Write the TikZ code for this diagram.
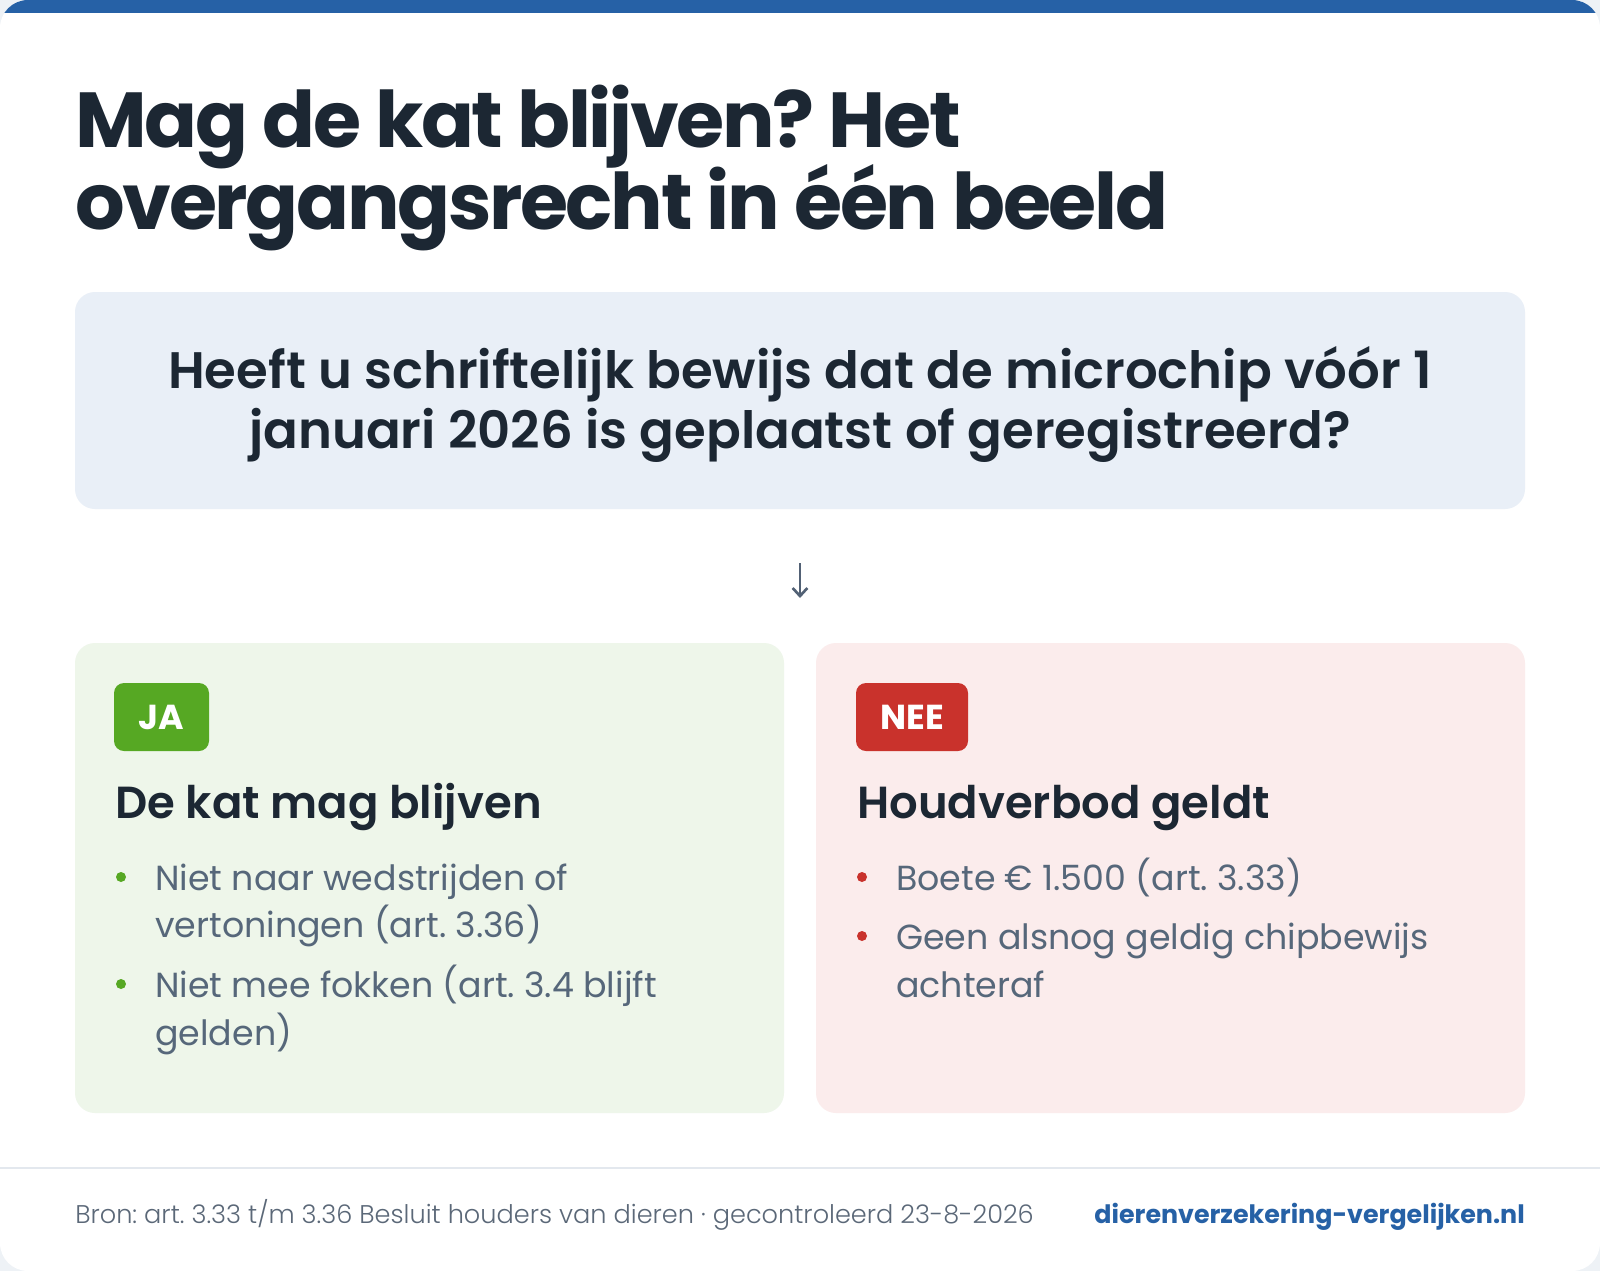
\documentclass[tikz,border=0pt]{standalone}
\usepackage{fontspec}
\setmainfont{Poppins}
\newfontfamily\semibold{Poppins SemiBold}
\newfontfamily\licht{Poppins Light}
\newfontfamily\titelletter{Poppins Bold}[LetterSpace=-3.0]
\usetikzlibrary{arrows.meta}

\definecolor{pagina}{HTML}{EEF2F6}
\definecolor{balk}{HTML}{2661A6}
\definecolor{inkt}{HTML}{1C2733}
\definecolor{vraagvlak}{HTML}{E9EFF7}
\definecolor{javlak}{HTML}{EEF6EA}
\definecolor{neevlak}{HTML}{FBECEC}
\definecolor{jagroen}{HTML}{56A823}
\definecolor{neerood}{HTML}{C9322C}
\definecolor{lijsttekst}{HTML}{56677A}
\definecolor{voettekst}{HTML}{5B6878}
\definecolor{lijn}{HTML}{E3E8EE}
\definecolor{pijlkleur}{HTML}{526175}

\begin{document}
\frenchspacing
\begin{tikzpicture}[x=0.75pt,y=-0.75pt,
    titel/.style={anchor=base west,inner sep=0,text=inkt,font=\fontsize{58.5}{70}\titelletter},
    vraag/.style={anchor=base,inner sep=0,text=inkt,font=\fontsize{38.5}{46}\semibold},
    kop/.style={anchor=base west,inner sep=0,text=inkt,font=\fontsize{33.7}{40}\semibold},
    punt/.style={anchor=base west,inner sep=0,text=lijsttekst,font=\fontsize{26.1}{32}\selectfont},
    stip/.style={circle,inner sep=0,minimum size=7.5pt},
    kenmerk/.style={rounded corners=7.5pt,minimum height=51pt,inner sep=0,text=white,font=\fontsize{26}{30}\selectfont\bfseries},
    vlak/.style={rounded corners=15pt},
    voet/.style={anchor=base west,inner sep=0,text=voettekst,font=\fontsize{19.2}{22}\licht}]
  \useasboundingbox (0,0) rectangle (1600,1271);
  % kaart
  \fill[pagina] (0,0) rectangle (1600,1271);
  \fill[white,rounded corners=21pt] (0,0) rectangle (1600,1271);
  \begin{scope}
    \clip[rounded corners=21pt] (0,0) rectangle (1600,1271);
    \fill[balk] (0,0) rectangle (1600,13);
  \end{scope}
  % titel
  \node[titel] (titel1) at (75,147) {Mag de kat blijven? Het};
  \node[titel] (titel2) at (75,229) {overgangsrecht in één beeld};
  % vraag
  \fill[vraagvlak,vlak] (75,292) rectangle (1525,509);
  \node[vraag] (vraag1) at (800,388) {Heeft u schriftelijk bewijs dat de microchip vóór 1};
  \node[vraag] (vraag2) at (800,448) {januari 2026 is geplaatst of geregistreerd?};
  \coordinate (pijlbegin) at (800,563);
  \coordinate (pijleind) at (800,598);
  \draw[pijlkleur,line width=2pt,-{Straight Barb[length=6pt,width=11pt]}] (pijlbegin) -- (pijleind);
  % ja en nee
  \fill[javlak,vlak] (75,643) rectangle (784,1113);
  \fill[neevlak,vlak] (816,643) rectangle (1525,1113);
  \node[kenmerk,fill=jagroen,minimum width=71.25pt] (ja) at (161.5,717) {JA};
  \node[kenmerk,fill=neerood,minimum width=84pt] (nee) at (912,717) {NEE};
  \node[kop] (kopja) at (115,818) {De kat mag blijven};
  \node[kop] (kopnee) at (857,818) {Houdverbod geldt};
  \node[stip,fill=jagroen] (stipja1) at (121,877) {};
  \node[punt] (ja1a) at (155,890) {Niet naar wedstrijden of};
  \node[punt] (ja1b) at (155,937) {vertoningen (art. 3.36)};
  \node[stip,fill=jagroen] (stipja2) at (121,984) {};
  \node[punt] (ja2a) at (155,997) {Niet mee fokken (art. 3.4 blijft};
  \node[punt] (ja2b) at (155,1045) {gelden)};
  \node[stip,fill=neerood] (stipnee1) at (862,877) {};
  \node[punt] (nee1) at (896,890) {Boete € 1.500 (art. 3.33)};
  \node[stip,fill=neerood] (stipnee2) at (862,936) {};
  \node[punt] (nee2a) at (896,949) {Geen alsnog geldig chipbewijs};
  \node[punt] (nee2b) at (896,997) {achteraf};
  % voet
  \draw[lijn,line width=1.1pt] (0,1168) -- (1600,1168);
  \node[voet] (bron) at (75,1223) {Bron: art. 3.33 t/m 3.36 Besluit houders van dieren · gecontroleerd 23-8-2026};
  \node[voet,anchor=base east,text=balk,font=\fontsize{19}{22}\selectfont\bfseries] (site) at (1525,1223) {dierenverzekering-vergelijken.nl};
\end{tikzpicture}
\end{document}
